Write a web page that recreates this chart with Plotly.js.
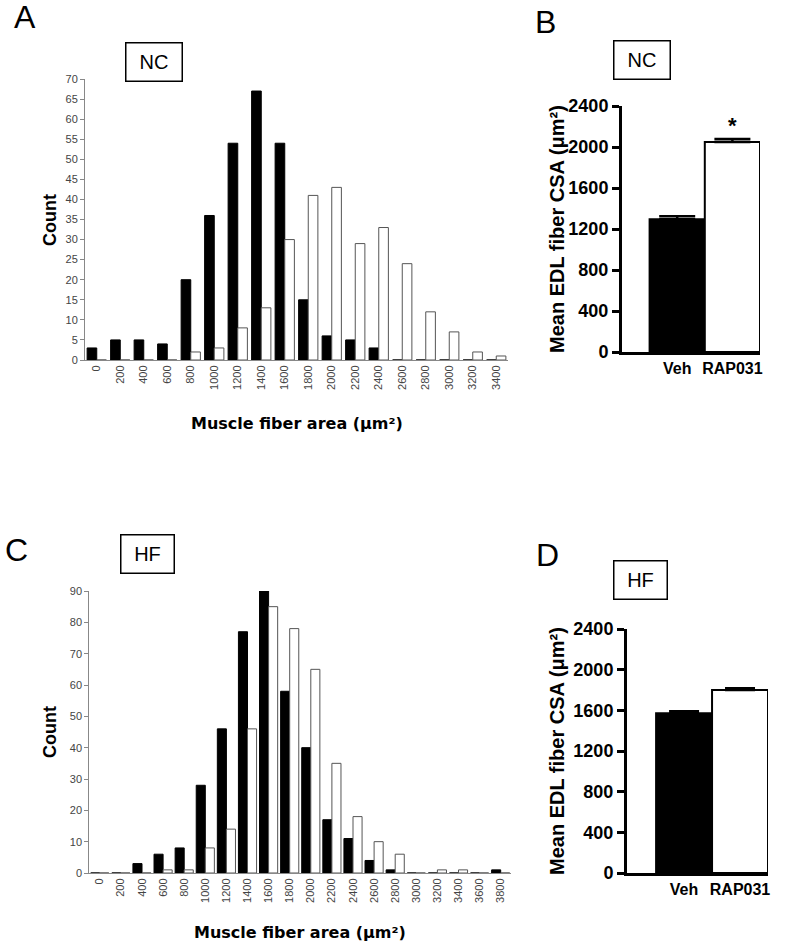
<!DOCTYPE html>
<html>
<head>
<meta charset="utf-8">
<script src="https://cdn.plot.ly/plotly-3.0.1.min.js"></script>
<style>
  body { margin: 0; background: #fff; }
  #chart { width: 800px; height: 947px; }
</style>
</head>
<body>
<div id="chart"></div>
<script>
// histogram bins (fiber area, um^2)
const binsNC = ['0','200','400','600','800','1000','1200','1400','1600','1800','2000','2200','2400','2600','2800','3000','3200','3400'];
const vehNC = [3, 5, 5, 4, 20, 36, 54, 67, 54, 15, 6, 5, 3, 0, 0, 0, 0, 0];
const rapNC = [0, 0, 0, 0, 2, 3, 8, 13, 30, 41, 43, 29, 33, 24, 12, 7, 2, 1];

const binsHF = ['0','200','400','600','800','1000','1200','1400','1600','1800','2000','2200','2400','2600','2800','3000','3200','3400','3600','3800'];
const vehHF = [0, 0, 3, 6, 8, 28, 46, 77, 90, 58, 40, 17, 11, 4, 1, 0, 0, 0, 0, 1];
const rapHF = [0, 0, 0, 1, 1, 8, 14, 46, 85, 78, 65, 35, 18, 10, 6, 0, 1, 1, 0, 0];

// mean EDL fiber CSA
const groups = ['Veh', 'RAP031'];
const meanNC = [1295, 2050];
const semNC = [30, 28];
const meanHF = [1572, 1800];
const semHF = [20, 16];

const W = 800, H = 947;
const px = v => v / W;
const py = v => 1 - v / H;
const FONT = 'Arial, "Liberation Sans", sans-serif';
const WIDE = '"DejaVu Sans", Verdana, sans-serif';

function histPair(bins, veh, rap, xa, ya, w) {
  return [
    { type: 'bar', x: bins, y: veh, xaxis: xa, yaxis: ya, width: w, offset: -w,
      marker: { color: '#000', line: { color: '#000', width: 1 } }, hoverinfo: 'y' },
    { type: 'bar', x: bins, y: rap, xaxis: xa, yaxis: ya, width: w, offset: 0,
      marker: { color: '#fff', line: { color: '#555', width: 1 } }, hoverinfo: 'y' }
  ];
}

function meanBars(y, err, xa, ya, capw) {
  return {
    type: 'bar', x: groups, y: y, xaxis: xa, yaxis: ya, width: 1, offset: -0.5,
    marker: { color: ['#000', '#fff'], line: { color: '#000', width: 2 } },
    error_y: { type: 'data', symmetric: false, array: err, arrayminus: [0, 0],
      color: '#000', thickness: 2.5, width: capw },
    hoverinfo: 'y'
  };
}

const data = [
  ...histPair(binsNC, vehNC, rapNC, 'x', 'y', 0.41),
  meanBars(meanNC, semNC, 'x2', 'y2', 18),
  ...histPair(binsHF, vehHF, rapHF, 'x3', 'y3', 0.43),
  meanBars(meanHF, semHF, 'x4', 'y4', 15)
];

const histX = (dom, anchor, n) => ({
  domain: dom, anchor: anchor, type: 'category', range: [-0.5, n - 0.5],
  showline: true, linecolor: '#888', linewidth: 1, ticks: '', tickangle: -90,
  tickfont: { family: FONT, size: 11, color: '#444' }, showgrid: false, zeroline: false
});
const histY = (dom, anchor, max, step) => ({
  domain: dom, anchor: anchor, range: [0, max], dtick: step,
  showline: true, linecolor: '#888', linewidth: 1, ticks: 'outside', ticklen: 4, tickcolor: '#888',
  tickfont: { family: FONT, size: 11, color: '#444' }, showgrid: false, zeroline: false
});
const meanX = (dom, anchor, r) => ({
  domain: dom, anchor: anchor, type: 'category', range: r,
  showline: true, linecolor: '#000', linewidth: 3, ticks: '',
  tickfont: { family: FONT, size: 16, color: '#000', weight: 'bold' }, showgrid: false, zeroline: false
});
const meanY = (dom, anchor) => ({
  domain: dom, anchor: anchor, range: [0, 2400], dtick: 400,
  showline: true, linecolor: '#000', linewidth: 3, ticks: 'outside', ticklen: 7, tickwidth: 3, tickcolor: '#000',
  tickfont: { family: FONT, size: 18, color: '#000', weight: 'bold' }, showgrid: false, zeroline: false
});

function letter(t, x, y) {
  return { text: t, xref: 'paper', yref: 'paper', x: px(x), y: py(y), showarrow: false,
    xanchor: 'center', yanchor: 'middle', font: { family: FONT, size: 32, color: '#000' } };
}
function box(t, x, y, w, h) {
  return { text: t, xref: 'paper', yref: 'paper', x: px(x), y: py(y), showarrow: false,
    xanchor: 'center', yanchor: 'middle', width: w, height: h, borderpad: 1,
    bordercolor: '#000', borderwidth: 1.5, bgcolor: '#fff',
    font: { family: FONT, size: 20, color: '#000' } };
}
function title(t, x, y, size, angle, fam) {
  return { text: t, xref: 'paper', yref: 'paper', x: px(x), y: py(y), showarrow: false,
    xanchor: 'center', yanchor: 'middle', textangle: angle,
    font: { family: fam || FONT, size: size, color: '#000', weight: 'bold' } };
}

const layout = {
  width: W, height: H,
  margin: { l: 0, r: 0, t: 0, b: 0 },
  paper_bgcolor: '#fff', plot_bgcolor: '#fff',
  showlegend: false, barmode: 'overlay',
  xaxis: histX([px(85), px(508)], 'y', binsNC.length),
  yaxis: histY([py(360), py(79)], 'x', 70, 5),
  xaxis2: meanX([px(622), px(760)], 'y2', [-1, 1.5]),
  yaxis2: meanY([py(352), py(106)], 'x2'),
  xaxis3: histX([px(89.25), px(511.25)], 'y3', binsHF.length),
  yaxis3: histY([py(873), py(591)], 'x3', 90, 10),
  xaxis4: meanX([px(627), px(768)], 'y4', [-1.02, 1.5]),
  yaxis4: meanY([py(873), py(629)], 'x4'),
  annotations: [
    letter('A', 25, 17), letter('B', 545, 22), letter('C', 16, 550), letter('D', 547, 555),
    box('NC', 153.5, 62, 53, 35), box('NC', 642, 60, 53, 35),
    box('HF', 147, 553.5, 50, 35), box('HF', 640, 580, 50, 35),
    title('Count', 50, 220, 18, -90),
    title('Count', 50, 732, 18, -90),
    title('Muscle fiber area (μm²)', 296.5, 423, 16, 0, WIDE),
    title('Muscle fiber area (μm²)', 300, 932, 16, 0, WIDE),
    title('Mean EDL fiber CSA (μm²)', 557, 229, 20, -90),
    title('Mean EDL fiber CSA (μm²)', 557, 751, 20, -90),
    { text: '*', xref: 'x2', yref: 'y2', x: 'RAP031', y: meanNC[1] + semNC[1], yshift: 14,
      showarrow: false, xanchor: 'center', yanchor: 'middle',
      font: { family: FONT, size: 22, color: '#000', weight: 'bold' } }
  ]
};

Plotly.newPlot('chart', data, layout, { displayModeBar: false, staticPlot: true });
</script>
</body>
</html>
